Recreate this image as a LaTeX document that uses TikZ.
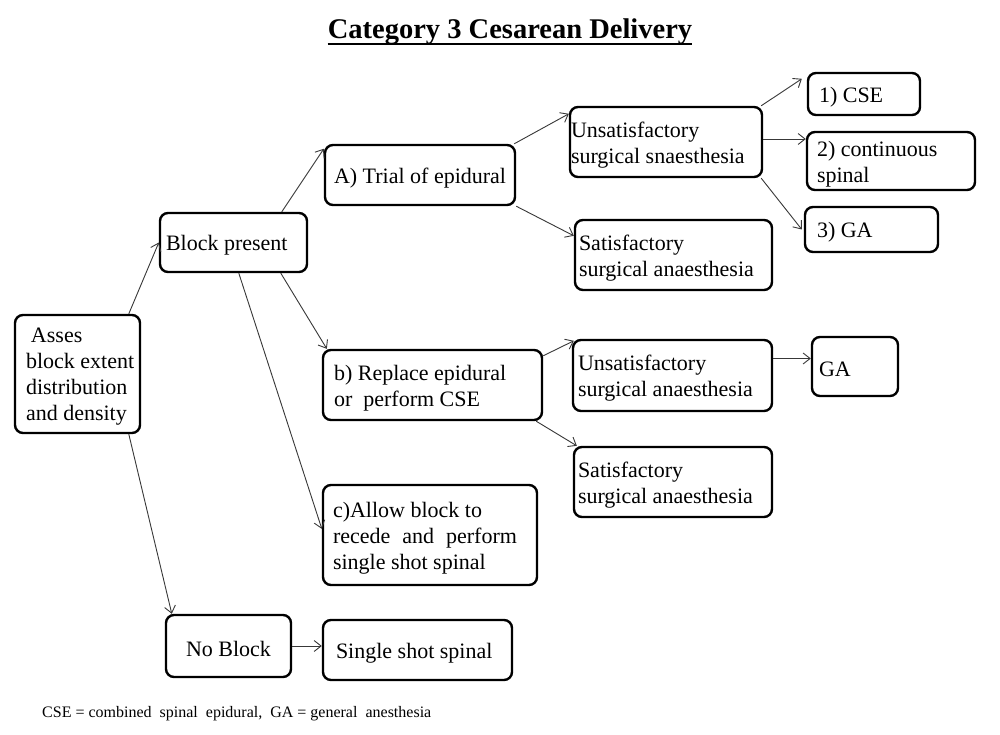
\documentclass[tikz,border=0pt]{standalone}
\usepackage{fontspec}
\setmainfont{Liberation Serif}
\usetikzlibrary{arrows.meta}
\tikzset{
  box/.style={draw=black, line width=2.4pt, rounded corners=8pt, inner sep=0pt},
  boxtext/.style={anchor=west, align=left, inner sep=0pt, yshift=-3pt, font=\rmfamily\fontsize{22}{26}\selectfont},
  conn/.style={draw=black!78, line width=0.9pt, -{Straight Barb[length=7pt,width=11pt,line width=0.9pt]}},
}
% \mybox{name}{x1}{y1}{x2}{y2}{leftpad}{text}
\newcommand{\mybox}[7]{%
  \pgfmathsetmacro{\bw}{#4-#2}\pgfmathsetmacro{\bh}{#5-#3}%
  \pgfmathsetmacro{\cx}{(#2+#4)/2}\pgfmathsetmacro{\cy}{(#3+#5)/2}%
  \node[box, minimum width=\bw pt, minimum height=\bh pt,
    label={[boxtext, xshift=#6pt]west:{#7}}] (#1) at (\cx,\cy) {};}
\begin{document}
\begin{tikzpicture}[x=1pt,y=-1pt]
\useasboundingbox (0,0) rectangle (1000,735);
\fill[white] (0,0) rectangle (1000,735);
% title
\node[anchor=base, inner sep=0pt, font=\rmfamily\fontsize{28.5}{32}\selectfont\bfseries] (title) at (510,39) {Category 3 Cesarean Delivery};
\draw[line width=2.2pt] ([yshift=-5pt]title.base west) -- ([yshift=-5pt]title.base east);
% boxes
\mybox{asses}{15}{315}{140}{433}{12}{\hspace{5pt}Asses\\block extent\\distribution\\and density}
\mybox{block}{160}{213}{307}{272}{7}{Block present}
\mybox{trial}{325}{145}{515}{205}{10}{A) Trial of epidural}
\mybox{unsatA}{570}{107}{762}{177}{2}{Unsatisfactory\\surgical snaesthesia}
\mybox{cse}{808}{73}{920}{115}{12}{1) CSE}
\mybox{cont}{807}{132}{975}{190}{11}{2) continuous\\spinal}
\mybox{gaA}{805}{207}{938}{252}{13}{3) GA}
\mybox{satA}{575}{220}{772}{290}{5}{Satisfactory\\surgical anaesthesia}
\mybox{repl}{323}{350}{542}{420}{12}{b) Replace epidural\\or\ \ perform CSE}
\mybox{unsatB}{573}{340}{772}{411}{6}{Unsatisfactory\\surgical anaesthesia}
\mybox{gaB}{812}{337}{898}{396}{8}{GA}
\mybox{satB}{574}{447}{772}{517}{5}{Satisfactory\\surgical anaesthesia}
\mybox{recede}{323}{485}{537}{585}{11}{c)Allow block to\\\makebox[184pt][s]{recede and perform}\\single shot spinal}
\mybox{noblock}{166}{615}{291}{677}{21}{No Block}
\mybox{single}{323}{620}{512}{680}{14}{Single shot spinal}
% connectors
\draw[conn] ([xshift=115pt]asses.north west) -- (block.west);
\draw[conn] ([xshift=115pt]asses.south west) -- ([xshift=7pt]noblock.north west);
\draw[conn] ([xshift=123pt]block.north west) -- ([yshift=-5pt]trial.north west);
\draw[conn] ([xshift=122pt]block.south west) -- ([xshift=5pt]repl.north west);
\draw[conn] ([xshift=80pt]block.south west) -- ([yshift=-45pt]recede.north west);
\draw[conn] ([xshift=-2pt]trial.north east) -- ([yshift=-8pt]unsatA.north west);
\draw[conn] (trial.south east) -- ([yshift=-17pt]satA.north west);
\draw[conn] ([xshift=-2pt]unsatA.north east) -- ([xshift=-5pt,yshift=-7pt]cse.north west);
\draw[conn] ([yshift=3pt]unsatA.east) -- ([yshift=3pt]unsatA.east -| cont.west);
\draw[conn] ([xshift=-2pt]unsatA.south east) -- ([xshift=-2pt]gaA.west);
\draw[conn] ([yshift=-7pt]repl.north east) -- ([xshift=2pt,yshift=-2pt]unsatB.north west);
\draw[conn] ([xshift=-7pt]repl.south east) -- ([xshift=4pt]satB.north west);
\draw[conn] ([yshift=17pt]unsatB.east) -- ([yshift=17pt]unsatB.east -| gaB.west);
\draw[conn] (noblock.east) -- (noblock.east -| single.west);
% footnote
\node[anchor=base west, inner sep=0pt, font=\rmfamily\fontsize{16}{19}\selectfont] (note) at (42,717) {CSE = combined\ \ spinal\ \ epidural,\ \ GA = general\ \ anesthesia};
\end{tikzpicture}
\end{document}
